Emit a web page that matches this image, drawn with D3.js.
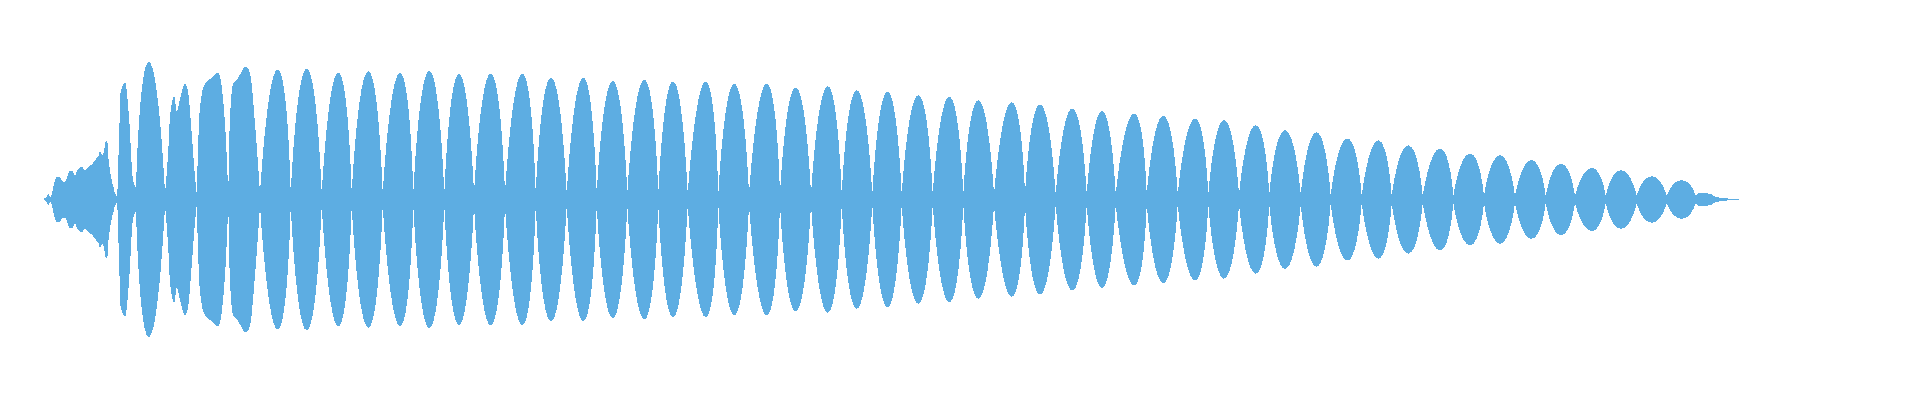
<!DOCTYPE html>
<html>
<head>
<meta charset="utf-8">
<script src="https://cdn.jsdelivr.net/npm/d3@7"></script>
<style>
  body { margin: 0; background: #fff; }
  svg { display: block; }
  .lobe { fill: #5dade2; shape-rendering: crispEdges; }
</style>
</head>
<body>
<div id="wave"></div>
<script>
// envelope nodes (ms) where the beat pattern pinches together
const nodeMs = [4, 77.3, 96, 125, 156.7, 188.3, 220, 250.7, 281.7, 311.7, 342.7,
  373.3, 404.3, 434, 465, 495.7, 526.7, 556.7, 587.3, 618.3, 647.7,
  678.3, 709, 740, 771, 801.7, 832.3, 861.7, 892.7, 923.3, 954,
  985, 1015.7, 1046.7, 1075.7, 1106.7, 1137.7, 1168.3, 1199, 1229.3, 1260.7,
  1290.7, 1321.7, 1351.7, 1382.7, 1413.3, 1444, 1475, 1505.7, 1535, 1565.7,
  1596.7, 1626.7, 1655.7, 1699];

// amplitude left at each node
const nodeAmp = [0.005, 0.02, 0.08, 0.04, 0.04, 0.04, 0.04, 0.04, 0.04, 0.04, 0.04,
  0.04, 0.04, 0.04, 0.04, 0.04, 0.04, 0.04, 0.04, 0.04, 0.04,
  0.033, 0.033, 0.033, 0.033, 0.033, 0.033, 0.033, 0.033, 0.033, 0.033,
  0.033, 0.033, 0.033, 0.033, 0.033, 0.033, 0.033, 0.033, 0.033, 0.033,
  0.023, 0.023, 0.023, 0.023, 0.023, 0.023, 0.023, 0.023, 0.023, 0.023,
  0.023, 0.023, 0.023, 0.003];

// envelope points between the nodes (attack, lobe peaks, tail)
const envMs = [
  7, 8.5, 10, 11.7, 13.3, 15, 16.7, 18.3, 20, 21.7, 23.3, 25, 26.7, 28.3, 30,
  31.7, 33.3, 35, 36.7, 38.3, 40, 41.7, 43.3, 45, 46.7, 48.3, 50, 51.7, 53.3,
  55, 56.7, 58.3, 60, 62.7, 64, 66, 67.3, 68.3, 70, 71.7, 73.3, 75,
  79.3, 80.7, 85, 89, 93,
  109,
  128.3, 130, 134.3, 136.7, 140, 145, 148.3, 151.7, 155,
  160, 165, 172, 178, 185,
  190, 193.3, 197, 206, 210, 215,
  237.7, 266.7, 298.3, 328.3, 360, 389.3, 419, 450.7, 482.3, 511,
  543.3, 572.7, 604.3, 633, 665.7, 694.3, 726.7, 755.7, 787.7, 816.7,
  847.5, 878.3, 909.3, 938.3, 971.7, 1000, 1032.3, 1062, 1094, 1123.3,
  1155, 1184, 1215.7, 1245, 1276.5, 1307.3, 1338.3, 1368.3, 1400, 1430,
  1460, 1491.5, 1521, 1551.7, 1581, 1611.7, 1641.7,
  1658.3, 1663, 1671, 1673.3, 1678, 1685, 1695];

const envAmp = [
  0.02, 0.037, 0.017, 0.033, 0.087, 0.127, 0.153, 0.153, 0.147, 0.127, 0.12, 0.12, 0.14, 0.173, 0.193,
  0.193, 0.18, 0.16, 0.187, 0.2, 0.213, 0.22, 0.207, 0.193, 0.207, 0.213, 0.227, 0.233, 0.247,
  0.26, 0.28, 0.287, 0.32, 0.293, 0.327, 0.393, 0.387, 0.287, 0.193, 0.127, 0.087, 0.04,
  0.46, 0.72, 0.78, 0.55, 0.13,
  0.918,
  0.33, 0.553, 0.687, 0.587, 0.667, 0.773, 0.707, 0.44, 0.153,
  0.617, 0.773, 0.813, 0.847, 0.507,
  0.55, 0.773, 0.8, 0.887, 0.84, 0.507,
  0.867, 0.873, 0.847, 0.855, 0.845, 0.858, 0.837, 0.84, 0.84, 0.813,
  0.813, 0.791, 0.8, 0.787, 0.785, 0.773, 0.773, 0.747, 0.755, 0.729,
  0.72, 0.695, 0.685, 0.662, 0.649, 0.635, 0.607, 0.59, 0.573, 0.558,
  0.54, 0.529, 0.495, 0.462, 0.447, 0.407, 0.395, 0.362, 0.34, 0.307,
  0.295, 0.263, 0.24, 0.211, 0.195, 0.155, 0.129,
  0.04, 0.043, 0.037, 0.025, 0.015, 0.008, 0.004];

const width = 1920, height = 400;
const margin = { top: 49.5, right: 40, bottom: 50.5, left: 40 };

const svg = d3.select("#wave").append("svg")
  .attr("width", width)
  .attr("height", height);

const x = d3.scaleLinear()
  .domain([0, 1840])
  .range([margin.left, width - margin.right]);

const y = d3.scaleLinear()
  .domain([-1, 1])
  .range([height - margin.bottom, margin.top]);

// plain node-peak-node lobes get a full rounded shape,
// hand-traced stretches follow their points
const roundArea = d3.area()
  .x(d => x(d.t))
  .y0(d => y(-d.a))
  .y1(d => y(d.a))
  .curve(d3.curveCardinal.tension(-1));

const freeArea = d3.area()
  .x(d => x(d.t))
  .y0(d => y(-d.a))
  .y1(d => y(d.a))
  .curve(d3.curveMonotoneX);

const env = envMs.map((t, i) => ({ t, a: envAmp[i] }));

// one mirrored lobe per node-to-node stretch
const lobes = [];
for (let i = 0; i < nodeMs.length - 1; i++) {
  const pts = [{ t: nodeMs[i], a: nodeAmp[i] }];
  env.forEach(p => { if (p.t > nodeMs[i] && p.t < nodeMs[i + 1]) pts.push(p); });
  pts.push({ t: nodeMs[i + 1], a: nodeAmp[i + 1] });
  lobes.push(pts);
}

svg.append("g")
  .selectAll("path")
  .data(lobes)
  .join("path")
  .attr("class", "lobe")
  .attr("d", d => d.length === 3 ? roundArea(d) : freeArea(d));
</script>
</body>
</html>
